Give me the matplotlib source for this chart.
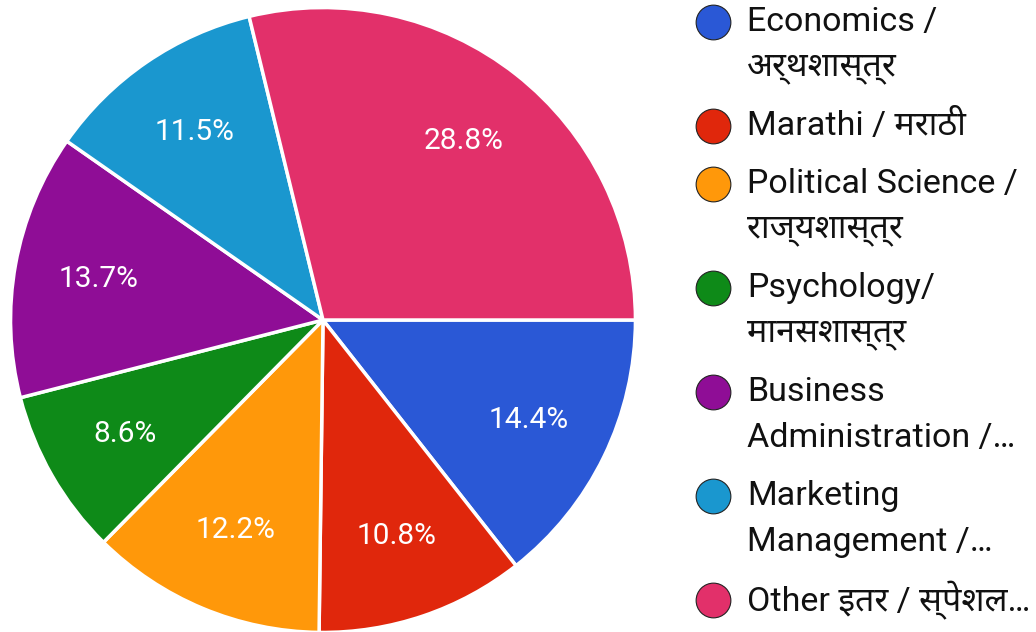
import matplotlib.pyplot as plt

plt.rcParams["font.family"] = ["Roboto", "Noto Sans Devanagari", "DejaVu Sans"]

labels = [
    "Economics /\nअर्थशास्त्र",
    "Marathi / मराठी",
    "Political Science /\nराज्यशास्त्र",
    "Psychology/\nमानसशास्त्र",
    "Business\nAdministration /…",
    "Marketing\nManagement /…",
    "Other इतर / स्पेशल…",
]
shares = [14.4, 10.8, 12.2, 8.6, 13.7, 11.5, 28.8]
colors = ["#2a58d6", "#e0270c", "#ff980a", "#0e8a18", "#8f0d96", "#1a97cf", "#e2306a"]

fig = plt.figure(figsize=(10.36, 6.32), dpi=100)

# pie axes: centre about (323, 320) px, radius about 314 px
ax = fig.add_axes([9 / 1036, -2 / 632, 628 / 1036, 628 / 632])
wedges, texts, autotexts = ax.pie(
    shares, colors=colors, startangle=0, counterclock=False,
    autopct="%.1f%%", pctdistance=0.73,
    wedgeprops=dict(edgecolor="white", linewidth=2.5),
    textprops=dict(color="white", fontsize=21.5),
)
ax.set_xlim(-1.005, 1.005)
ax.set_ylim(-1.005, 1.005)
ax.set_aspect("equal")

# legend drawn by hand so the marker sits on the first line
lax = fig.add_axes([0, 0, 1, 1])
lax.set_xlim(0, 1036)
lax.set_ylim(632, 0)
lax.axis("off")
y = 22
for lab, col in zip(labels, colors):
    lax.plot(713, y, "o", ms=25, color=col, mec="#222222", mew=0.8)
    lines = lab.split("\n")
    for i, line in enumerate(lines):
        lax.text(747, y + i * 46, line, fontsize=24.5, va="center", ha="left",
                 color="#111111")
    y += 46 * (len(lines) - 1) + 58

fig.savefig("out.png", dpi=100)
